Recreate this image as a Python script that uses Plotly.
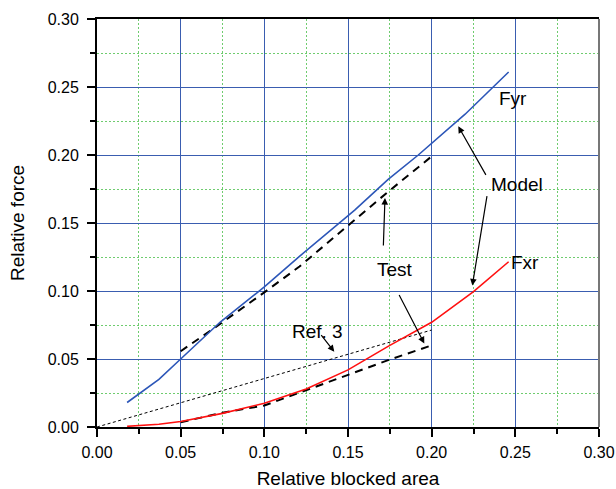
import plotly.graph_objects as go

# Model curves
fyr_x = [0.018, 0.037, 0.050, 0.0735, 0.100, 0.121, 0.154, 0.174, 0.192, 0.220, 0.246]
fyr_y = [0.018, 0.035, 0.050, 0.077, 0.103, 0.1255, 0.1595, 0.182, 0.200, 0.230, 0.261]
fxr_x = [0.018, 0.037, 0.050, 0.075, 0.100, 0.125, 0.150, 0.175, 0.200, 0.225, 0.246]
fxr_y = [0.0005, 0.002, 0.004, 0.010, 0.0175, 0.028, 0.042, 0.060, 0.077, 0.0995, 0.1215]

# Test data
test_fyr_x = [0.050, 0.075, 0.100, 0.121, 0.174, 0.200]
test_fyr_y = [0.0557, 0.077, 0.099, 0.118, 0.173, 0.199]
test_fxr_x = [0.050, 0.075, 0.100, 0.125, 0.150, 0.175, 0.200]
test_fxr_y = [0.0035, 0.0105, 0.0158, 0.027, 0.0386, 0.0496, 0.060]

# Ref. 3 estimate
ref_x = [0.0, 0.200]
ref_y = [0.0, 0.0713]

x_ticks = [0.00, 0.05, 0.10, 0.15, 0.20, 0.25, 0.30]
y_ticks = [0.00, 0.05, 0.10, 0.15, 0.20, 0.25, 0.30]

FONT = "Liberation Sans, Arial, sans-serif"
MAJOR_GRID = "#3a5db0"
MINOR_GRID = "#6fcc6f"

fig = go.Figure()
fig.add_trace(go.Scatter(x=ref_x, y=ref_y, mode="lines",
                         line=dict(color="black", width=1, dash="3px,2.5px")))
fig.add_trace(go.Scatter(x=test_fyr_x, y=test_fyr_y, mode="lines",
                         line=dict(color="black", width=2, dash="8px,6px")))
fig.add_trace(go.Scatter(x=test_fxr_x, y=test_fxr_y, mode="lines",
                         line=dict(color="black", width=2, dash="8px,6px")))
fig.add_trace(go.Scatter(x=fyr_x, y=fyr_y, mode="lines",
                         line=dict(color="#2c56b8", width=1.6)))
fig.add_trace(go.Scatter(x=fxr_x, y=fxr_y, mode="lines",
                         line=dict(color="#ff1010", width=1.6)))

axis_common = dict(
    range=[0, 0.30], showgrid=True, gridcolor=MAJOR_GRID, gridwidth=1.2,
    zeroline=False, showline=True, linecolor="black", linewidth=2,
    ticks="outside", ticklen=8, tickwidth=1.5, tickcolor="black",
    tickfont=dict(family=FONT, size=16, color="black"),
    tickformat=".2f", automargin=False,
    minor=dict(dtick=0.025, ticks="outside", ticklen=5, tickwidth=1.5, tickcolor="black",
               showgrid=True, gridcolor=MINOR_GRID, griddash="2px,2px", gridwidth=1),
)

fig.update_xaxes(**axis_common, tickvals=x_ticks, mirror=True, ticklabelstandoff=2,
                 title=dict(text="Relative blocked area", font=dict(family=FONT, size=19, color="black"),
                            standoff=18))
fig.update_yaxes(**axis_common, tickvals=y_ticks, ticklabelstandoff=5,
                 title=dict(text="Relative force", font=dict(family=FONT, size=19, color="black"),
                            standoff=18))

# Right frame edge
fig.add_shape(type="line", xref="paper", yref="paper", x0=1, x1=1, y0=0, y1=1,
              line=dict(color="#777777", width=2))

text_font = dict(family=FONT, size=19, color="black")
labels = [
    ("Fyr", 0.2486, 0.2414),
    ("Model", 0.251, 0.178),
    ("Test", 0.178, 0.1157),
    ("Ref. 3", 0.1315, 0.0702),
    ("Fxr", 0.2558, 0.1211),
]
for txt, lx, ly in labels:
    fig.add_annotation(x=lx, y=ly, text=txt, showarrow=False, font=text_font,
                       xanchor="center", yanchor="middle")

arrows = [
    # (tail x, tail y, tip x, tip y)
    (0.2329, 0.1843, 0.2159, 0.2211),
    (0.2332, 0.1709, 0.2243, 0.1040),
    (0.1711, 0.1324, 0.1721, 0.1684),
    (0.1801, 0.0981, 0.1956, 0.0614),
    (0.1333, 0.0687, 0.1418, 0.0553),
]
for tx, ty, hx, hy in arrows:
    fig.add_annotation(x=hx, y=hy, ax=tx, ay=ty, xref="x", yref="y", axref="x", ayref="y",
                       text="", showarrow=True, arrowhead=2, arrowsize=1.1, arrowwidth=1.2,
                       arrowcolor="black", standoff=0, startstandoff=0)

fig.update_layout(
    width=616, height=489,
    margin=dict(l=97, r=17, t=19, b=62),
    paper_bgcolor="white", plot_bgcolor="white",
    showlegend=False,
    font=dict(family=FONT, color="black"),
)

fig.write_html("out.html")
